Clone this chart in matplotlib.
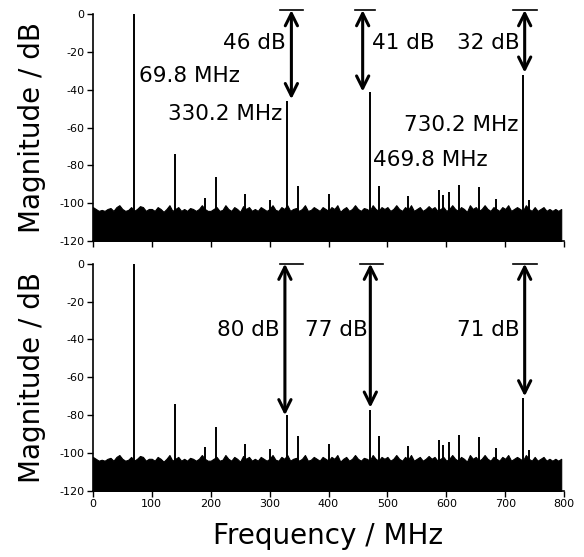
import matplotlib.pyplot as plt

plt.rcParams["axes.unicode_minus"] = False

# noise floor, read every 5 MHz from 0 to 795 MHz (dB)
noise_freq = list(range(0, 800, 5))
noise_db = [
    -102, -103, -104, -103.5, -104, -103, -102.5, -104, -102, -101, -103, -104, -103.5, -102, -104, -103, -101.5, -102, -104, -103,
    -103, -104, -102, -103, -104.5, -103, -101, -104, -103, -102, -104, -103, -104, -102.5, -103, -104, -103, -101, -103, -104,
    -104, -103, -102, -104, -103.5, -101, -103, -104, -102, -103, -104.5, -101.5, -103, -102, -104, -103, -104, -102, -103, -104,
    -103, -101, -103.5, -104, -102, -103, -101, -104, -103, -102.5, -104, -103, -101, -104, -103.5, -102, -103, -104, -102, -103,
    -104, -102, -103, -101, -104.5, -103, -102, -104, -103, -101, -103, -104, -102.5, -103, -104, -101, -103, -104, -102, -103,
    -102, -104, -103, -101, -103, -104, -102, -103.5, -101, -104, -103, -102, -104, -103, -101.5, -103, -102, -104, -103, -102,
    -104, -103, -101, -103, -104, -102, -103, -104.5, -101, -103, -102, -104, -103, -101, -103, -104, -102, -103, -104, -102,
    -103, -101, -104, -103, -102, -103, -104, -101, -103, -104, -102, -104, -103, -102, -104, -103, -104, -103, -104, -103,
]

# discrete spurs (MHz, dB); only the three main ones differ between panels
spur_freq = [69.8, 140, 190, 209.4, 259, 301, 330.2, 348, 400, 469.8,
             486, 535, 587, 594, 604, 622, 656, 685, 730.2, 740]
spur_top = [0, -74, -97, -86, -95, -98, -46, -91, -95, -41,
            -91, -96, -93, -95.5, -94, -90.5, -91.5, -97.5, -32, -98.5]
spur_bot = [0, -74, -97, -86, -95, -98, -80, -91, -95, -77,
            -91, -96, -93, -95.5, -94, -90.5, -91.5, -97.5, -71, -98.5]

# arrow annotations: (arrow x, bar x0, bar x1, tip dB, label, label x, align)
arrows_top = [(337, 317, 356, -45, "46 dB", 328, "right"),
              (458, 445, 479, -41, "41 dB", 473, "left"),
              (733, 713, 754, -31, "32 dB", 725, "right")]
arrows_bot = [(326, 317, 356, -80, "80 dB", 317, "right"),
              (471, 453, 493, -76, "77 dB", 467, "right"),
              (733, 713, 754, -70, "71 dB", 725, "right")]

fig = plt.figure(figsize=(5.84, 5.57), dpi=100)
ax1 = fig.add_axes([0.159, 0.567, 0.807, 0.408])
ax2 = fig.add_axes([0.159, 0.1185, 0.807, 0.408])


def draw_panel(ax, spur_db, arrows, bar_y, label_y):
    ax.fill_between(noise_freq, -120, noise_db, color="k", lw=0.8, edgecolor="k")
    ax.vlines(spur_freq, -120, spur_db, color="k", lw=1.4)
    for xa, x0, x1, tip, lab, xl, ha in arrows:
        ax.plot([x0, x1], [bar_y, bar_y], color="k", lw=1.2, clip_on=False)
        ax.annotate("", xy=(xa, tip), xytext=(xa, bar_y),
                    arrowprops=dict(arrowstyle="<->", lw=2.2, color="k",
                                    mutation_scale=22, shrinkA=0, shrinkB=0),
                    annotation_clip=False)
        ax.text(xl, label_y, lab, ha=ha, va="center", fontsize=15.5)
    ax.set_xlim(0, 800)
    ax.set_ylim(-120, 0)
    ax.set_yticks(range(-120, 1, 20))
    ax.set_xticks(range(0, 801, 100))
    for s in ["top", "right"]:
        ax.spines[s].set_visible(False)
    for s in ["left", "bottom"]:
        ax.spines[s].set_linewidth(1.2)
    ax.tick_params(labelsize=8, width=1.0, length=4, pad=2)
    ax.set_ylabel("Magnitude / dB", fontsize=20)
    ax.yaxis.set_label_coords(-0.1, 0.5)


draw_panel(ax1, spur_top, arrows_top, 2, -15.5)
ax1.tick_params(labelbottom=False)
ax1.text(78, -33, "69.8 MHz", ha="left", va="center", fontsize=15.5)
ax1.text(321, -53, "330.2 MHz", ha="right", va="center", fontsize=15.5)
ax1.text(475, -77, "469.8 MHz", ha="left", va="center", fontsize=15.5)
ax1.text(722, -58.5, "730.2 MHz", ha="right", va="center", fontsize=15.5)

draw_panel(ax2, spur_bot, arrows_bot, 0, -35)
ax2.set_xlabel("Frequency / MHz", fontsize=20, labelpad=9)

plt.savefig("out.png", dpi=100)
